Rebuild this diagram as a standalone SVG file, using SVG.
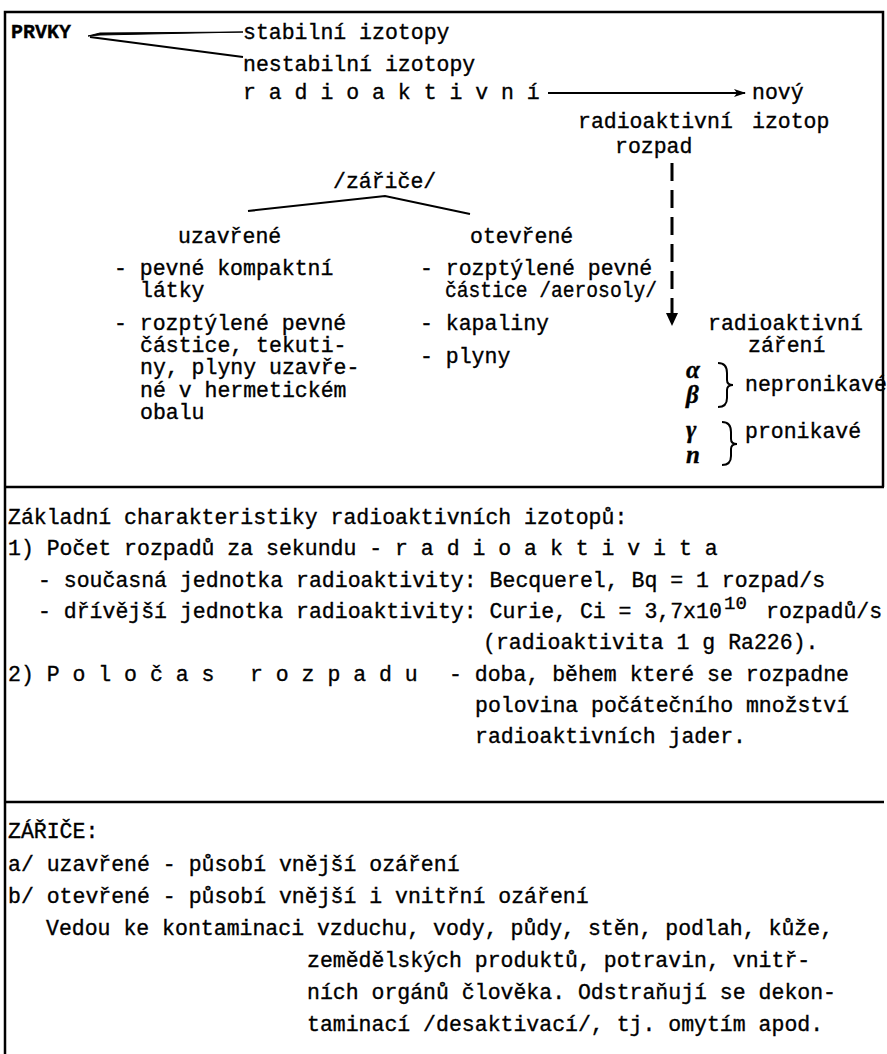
<svg xmlns="http://www.w3.org/2000/svg" width="887" height="1054" viewBox="0 0 887 1054">
<style>
text{font-family:"Liberation Mono","DejaVu Sans Mono",monospace;font-size:21.5px;fill:#000;stroke:#000;stroke-width:0.35;white-space:pre}
.sym{font-family:"Liberation Serif","DejaVu Serif",serif;font-weight:bold;font-style:italic;font-size:25px}
.ln{stroke:#000;stroke-width:2;fill:none}
.frame{stroke:#000;stroke-width:2.5;fill:none}
</style>
<defs>
<marker id="ah" markerWidth="12" markerHeight="10" refX="11" refY="5" orient="auto" markerUnits="userSpaceOnUse">
<path d="M0,1 L12,5 L0,9 L3,5 Z" fill="#000"/>
</marker>
</defs>
<g id="frame">
<path class="frame" d="M5,1054 L5,12 L883,12 L883,487"/>
<line class="frame" x1="5" y1="487" x2="884" y2="487"/>
<line class="frame" x1="5" y1="802" x2="884" y2="802"/>
</g>
<g id="connectors">
<path d="M88,36 L100,33 L243,32 L100,35 Z" fill="#000" stroke="#000" stroke-width="1"/>
<path class="ln" d="M90,37 L243,57"/>
<line class="ln" x1="548" y1="93" x2="745" y2="93" marker-end="url(#ah)"/>
<path class="ln" d="M248,211 L385,196 L470,214"/>
<line x1="672" y1="163" x2="672" y2="313" stroke="#000" stroke-width="3" stroke-dasharray="18,9"/>
<path d="M666,313 L678,313 L672,326 Z" fill="#000"/>
<path class="ln" d="M718,363 Q727,363 727,373 L727,380 Q727,385 733,385 Q727,385 727,390 L727,398 Q727,407 718,407"/>
<path class="ln" d="M722,422 Q731,422 731,432 L731,439 Q731,444 737,444 Q731,444 731,449 L731,456 Q731,465 722,465"/>
</g>
<g id="prvky"><text x="11" y="38" style="font-weight:bold;font-size:20px">PRVKY</text></g>
<g id="stabilni"><text x="243" y="39">stabilní izotopy</text></g>
<g id="nestabilni"><text x="243" y="71">nestabilní izotopy</text></g>
<g id="radioaktivni"><text x="243" y="99">r a d i o a k t i v n í</text></g>
<g id="novy-izotop"><text x="752" y="99">nový</text><text x="752" y="128">izotop</text></g>
<g id="rozpad-label"><text x="578" y="128">radioaktivní</text><text x="615" y="153">rozpad</text></g>
<g id="zarice"><text x="333" y="188">/zářiče/</text></g>
<g id="uzavrene">
<text x="178" y="243">uzavřené</text>
<text x="114" y="275">- pevné kompaktní</text>
<text x="140" y="297">látky</text>
<text x="114" y="330">- rozptýlené pevné</text>
<text x="140" y="352">částice, tekuti-</text>
<text x="140" y="374">ny, plyny uzavře-</text>
<text x="140" y="397">né v hermetickém</text>
<text x="140" y="419">obalu</text>
</g>
<g id="otevrene">
<text x="470" y="243">otevřené</text>
<text x="420" y="275">- rozptýlené pevné</text>
<text x="445" y="297" textLength="212" lengthAdjust="spacingAndGlyphs">částice /aerosoly/</text>
<text x="420" y="330">- kapaliny</text>
<text x="420" y="363">- plyny</text>
</g>
<g id="zareni">
<text x="708" y="330">radioaktivní</text>
<text x="748" y="352">záření</text>
</g>
<g id="nepronikave">
<text class="sym" x="686" y="378">α</text>
<text class="sym" x="686" y="403">β</text>
<text x="745" y="391">nepronikavé</text>
</g>
<g id="pronikave">
<text class="sym" x="686" y="438">γ</text>
<text class="sym" x="686" y="463">n</text>
<text x="745" y="438">pronikavé</text>
</g>
<g id="charakteristiky">
<text x="8" y="524">Základní charakteristiky radioaktivních izotopů:</text>
<text x="8" y="555">1) Počet rozpadů za sekundu - r a d i o a k t i v i t a</text>
<text x="38" y="587">- současná jednotka radioaktivity: Becquerel, Bq = 1 rozpad/s</text>
<text x="38" y="618">- dřívější jednotka radioaktivity: Curie, Ci = 3,7x10</text>
<text x="724" y="609" style="font-size:19px">10</text>
<text x="766" y="618">rozpadů/s</text>
<text x="483" y="649">(radioaktivita 1 g Ra226).</text>
<text x="8" y="681">2) P o l o č a s</text>
<text x="250" y="681">r o z p a d u</text>
<text x="449" y="681">- doba, během které se rozpadne</text>
<text x="475" y="712">polovina počátečního množství</text>
<text x="475" y="743">radioaktivních jader.</text>
</g>
<g id="zarice-info">
<text x="8" y="838">ZÁŘIČE:</text>
<text x="8" y="871">a/ uzavřené - působí vnější ozáření</text>
<text x="8" y="903">b/ otevřené - působí vnější i vnitřní ozáření</text>
<text x="46" y="935">Vedou ke kontaminaci vzduchu, vody, půdy, stěn, podlah, kůže,</text>
<text x="307" y="967">zemědělských produktů, potravin, vnitř-</text>
<text x="307" y="999">ních orgánů člověka. Odstraňují se dekon-</text>
<text x="307" y="1031">taminací /desaktivací/, tj. omytím apod.</text>
</g>
</svg>
